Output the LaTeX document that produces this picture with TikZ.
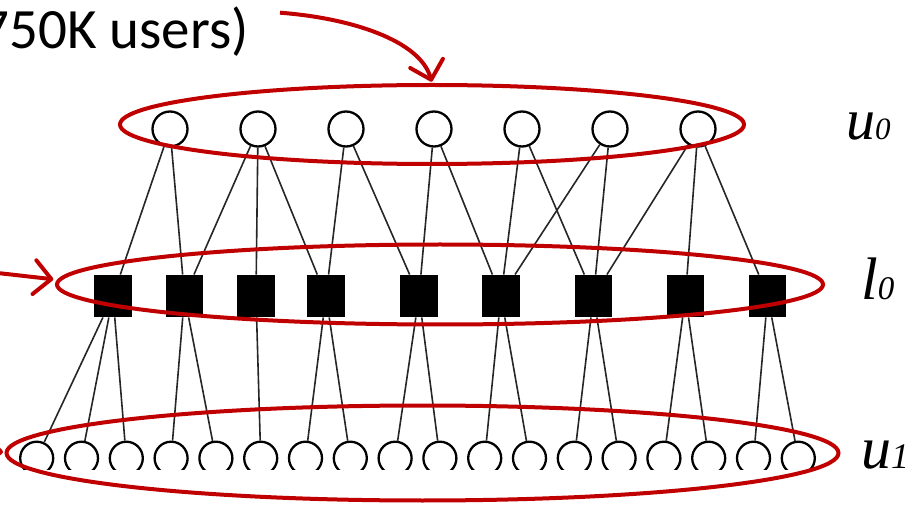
\documentclass[tikz,border=0pt]{standalone}
\usepackage{fontspec}
\setmainfont{Carlito}
\newfontfamily\labfont{Liberation Serif}
\usetikzlibrary{arrows.meta}
\definecolor{hlred}{HTML}{C00000}
\tikzset{
  ucirc/.style={circle, draw=black, line width=2.3pt, fill=white, minimum size=35pt, inner sep=0pt},
  bcirc/.style={circle, draw=black, line width=2.3pt, fill=white, minimum size=33pt, inner sep=0pt},
  lsq/.style={rectangle, fill=black, minimum width=37.5pt, minimum height=42.5pt, inner sep=0pt},
  link/.style={draw=black!85, line width=1.6pt},
  hoop/.style={draw=hlred, line width=4pt},
  pointer/.style={draw=hlred, line width=4pt, -{Straight Barb[length=17pt,width=34pt,round]}},
  lab/.style={anchor=base west, inner sep=0pt, font=\labfont\itshape}
}
\begin{document}
\begin{tikzpicture}[x=1pt,y=-1pt]
\useasboundingbox (0,0) rectangle (914,505);
\clip (0,0) rectangle (914,505);

% upper user layer u0
\foreach \i/\x in {1/170,2/258,3/346,4/434,5/522,6/610,7/698}
  \node[ucirc] (a\i) at (\x,129) {};

% link layer l0
\foreach \i/\x in {1/113,2/184.5,3/256,4/326,5/419,6/501,7/593.5,8/685.5,9/767.7}
  \node[lsq] (s\i) at (\x,296) {};

% lower user layer u1 (cut off along the bottom)
\begin{scope}
  \clip (0,0) rectangle (914,469.5);
  \foreach \i in {1,...,18}
    \node[bcirc] (b\i) at ({36.7+44.8*(\i-1)},458.2) {};
\end{scope}

% u0 -- l0 links
\foreach \a/\s in {1/1,1/2,2/2,2/3,2/4,3/4,3/5,4/5,4/6,5/6,5/7,6/6,6/7,7/7,7/8,7/9}
  \draw[link] (a\a) -- (s\s);

% l0 -- u1 links
\foreach \s/\b in {1/1,1/2,1/3,2/4,2/5,3/6,4/7,4/8,5/9,5/10,6/11,6/12,7/13,7/14,8/15,8/16,9/17,9/18}
  \draw[link] (s\s) -- (b\b);

% highlighted layers
\draw[hoop] (432,124.5) ellipse [x radius=312, y radius=39.5];
\draw[hoop] (440,284.5) ellipse [x radius=383, y radius=40];
\draw[hoop] (422.5,453) ellipse [x radius=416, y radius=47.5];

% callout text and pointers
\node[anchor=base east, inner sep=0pt, font=\fontsize{57}{64}\selectfont] (note) at (249,48.5) {(750K users)};
\coordinate (tipA) at (431.7,81.7);
\coordinate (startA) at (280,12.7);
\draw[pointer] (startA) .. controls (350,18) and (420,40) .. (tipA);
\coordinate (tipB) at (53.3,279.3);
\coordinate (startB) at (-20,271);
\draw[pointer] (startB) -- (tipB);
\coordinate (tipC) at (3,452);
\coordinate (startC) at (-60,448);
\draw[pointer] (startC) -- (tipC);

% layer names
\node[lab, font=\labfont\itshape\fontsize{58}{60}\selectfont] (nu0) at (846,140) {u{\fontsize{31}{31}\selectfont 0}};
\node[lab, font=\labfont\itshape\fontsize{60}{64}\selectfont] (nl0) at (861,300) {l{\fontsize{33}{33}\selectfont 0}};
\node[lab, font=\labfont\itshape\fontsize{60}{64}\selectfont] (nu1) at (861,468) {u{\fontsize{36}{36}\selectfont 1}};
\end{tikzpicture}
\end{document}
